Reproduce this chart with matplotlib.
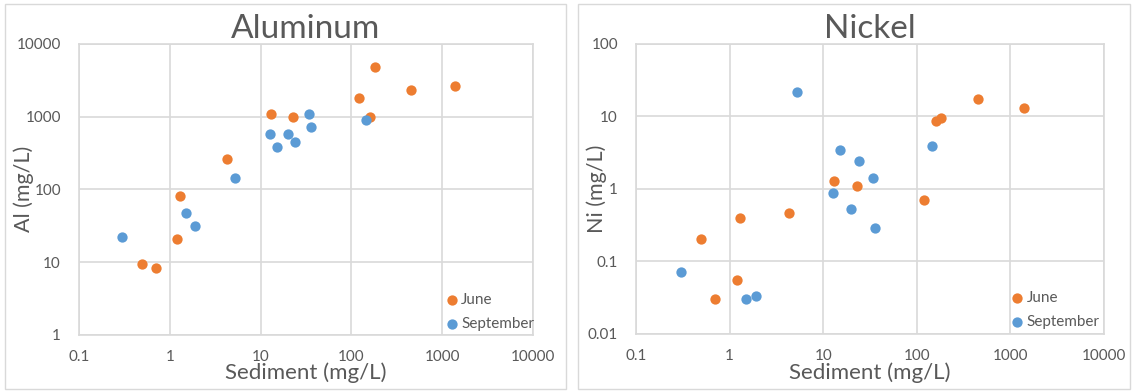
import matplotlib
matplotlib.use('Agg')
import matplotlib.pyplot as plt
from matplotlib.patches import Rectangle

# sediment concentrations (mg/L), shared by both panels
june_sediment = [0.5, 0.7, 1.2, 1.3, 4.3, 13, 23, 120, 160, 180, 450, 1400]
sept_sediment = [0.3, 1.5, 1.9, 5.2, 12.7, 15, 20, 24, 34, 36, 145]

june_al = [9.5, 8.3, 21, 82, 260, 1080, 1000, 1800, 1000, 4800, 2300, 2600]
sept_al = [22, 47, 31, 143, 570, 380, 570, 450, 1080, 720, 900]

june_ni = [0.2, 0.03, 0.055, 0.40, 0.46, 1.27, 1.1, 0.7, 8.5, 9.3, 17, 13]
sept_ni = [0.07, 0.03, 0.033, 21.5, 0.88, 3.4, 0.53, 2.4, 1.4, 0.29, 3.9]

x_ticks = [0.1, 1, 10, 100, 1000, 10000]
x_tick_labels = ['0.1', '1', '10', '100', '1000', '10000']
al_ticks = [1, 10, 100, 1000, 10000]
al_tick_labels = ['1', '10', '100', '1000', '10000']
ni_ticks = [0.01, 0.1, 1, 10, 100]
ni_tick_labels = ['0.01', '0.1', '1', '10', '100']

ORANGE = '#ED7D31'
BLUE = '#5B9BD5'
GRID = '#D9D9D9'
TEXT = '#595959'
W, H = 1134, 391

plt.rcParams['font.family'] = ['Lato', 'DejaVu Sans']

fig = plt.figure(figsize=(W / 100, H / 100), dpi=100)


def px_rect(x0, y0, x1, y1):
    # pixel box (top-left origin) -> figure fraction [left, bottom, width, height]
    return [x0 / W, 1 - y1 / H, (x1 - x0) / W, (y1 - y0) / H]


def make_panel(panel_box, plot_box, title, ylabel, yticks, ytick_labels,
               y_june, y_sept, legend_anchor):
    px0, py0, px1, py1 = panel_box
    fig.patches.append(Rectangle((px0 / W, 1 - py1 / H), (px1 - px0) / W,
                                 (py1 - py0) / H, transform=fig.transFigure,
                                 fill=False, edgecolor=GRID, linewidth=1))
    ax = fig.add_axes(px_rect(*plot_box))
    ax.scatter(june_sediment, y_june, s=55, color=ORANGE, linewidths=0,
               label='June', zorder=3)
    ax.scatter(sept_sediment, y_sept, s=55, color=BLUE, linewidths=0,
               label='September', zorder=3)
    ax.set_xscale('log')
    ax.set_yscale('log')
    ax.set_xlim(x_ticks[0], x_ticks[-1])
    ax.set_ylim(yticks[0], yticks[-1])
    ax.set_xticks(x_ticks)
    ax.set_xticklabels(x_tick_labels)
    ax.set_yticks(yticks)
    ax.set_yticklabels(ytick_labels)
    ax.minorticks_off()
    ax.tick_params(axis='both', length=0, labelsize=11, labelcolor=TEXT)
    ax.tick_params(axis='x', pad=11)
    ax.tick_params(axis='y', pad=13)
    ax.grid(True, color=GRID, linewidth=1.2)
    ax.set_axisbelow(True)
    for spine in ax.spines.values():
        spine.set_color(GRID)
        spine.set_linewidth(1.2)

    x0, y0, x1, y1 = plot_box
    cx = (x0 + x1) / 2
    cy = (y0 + y1) / 2
    fig.text(cx / W, 1 - 29 / H, title, ha='center', va='center',
             fontsize=24, color=TEXT)
    fig.text(cx / W, 1 - 373 / H, 'Sediment (mg/L)', ha='center',
             va='center', fontsize=16, color=TEXT)
    fig.text((px0 + 19) / W, 1 - cy / H, ylabel, ha='center', va='center',
             rotation=90, fontsize=15.5, color=TEXT)

    leg = ax.legend(loc='center left', bbox_to_anchor=legend_anchor,
                    frameon=False, fontsize=11, handlelength=0.5,
                    handletextpad=0.35, borderpad=0, borderaxespad=0,
                    labelspacing=0.65, markerscale=1.0)
    for text in leg.get_texts():
        text.set_color(TEXT)
    return ax


make_panel((5, 4, 566, 389), (79, 43.7, 533, 335), 'Aluminum', 'Al (mg/L)',
           al_ticks, al_tick_labels, june_al, sept_al, (0.8128, 0.079))
make_panel((578, 4, 1130, 389), (636, 43.7, 1104, 333.7), 'Nickel',
           'Ni (mg/L)', ni_ticks, ni_tick_labels, june_ni, sept_ni,
           (0.807, 0.082))

fig.savefig('out.png', dpi=100)
